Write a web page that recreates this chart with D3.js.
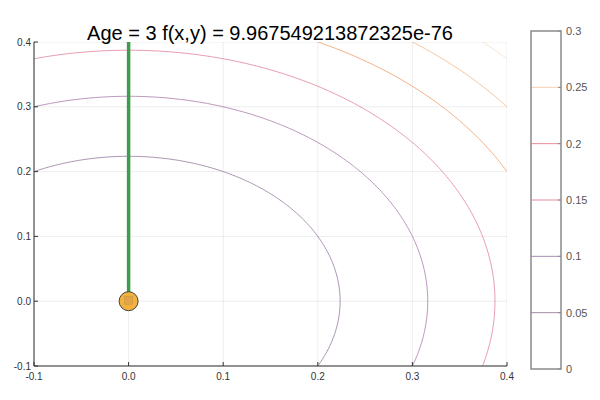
<!DOCTYPE html>
<html>
<head>
<meta charset="utf-8">
<script src="https://cdn.jsdelivr.net/npm/d3@7"></script>
<style>
  body { margin: 0; background: #fff; }
  text { font-family: "Liberation Sans", Arial, sans-serif; }
</style>
</head>
<body>
<div id="chart"></div>
<script>
// contour levels and their colours
let levels = [0.05, 0.1, 0.15, 0.2, 0.25, 0.3]
let levelColors = ['#8f7398', '#a574a8', '#e07a92', '#f0955f', '#f4b27c', '#f7dcbf']
let cbColors = ['#a48aa8', '#a88cb5', '#e88a98', '#e88a98', '#f6cfb2']
let xTicks = [-0.1, 0.0, 0.1, 0.2, 0.3, 0.4]
let yTicks = [-0.1, 0.0, 0.1, 0.2, 0.3, 0.4]
let cbTicks = [0, 0.05, 0.1, 0.15, 0.2, 0.25, 0.3]
let cbLabels = ['0', '0.05', '0.1', '0.15', '0.2', '0.25', '0.3']
// trajectory and current point
let pathX = [0, 0]
let pathY = [0, 0.4]
let pointX = [0]
let pointY = [0]
let title = 'Age = 3 f(x,y) = 9.967549213872325e-76'

let width = 600
let height = 400
let plot = { left: 34, right: 507, top: 42, bottom: 366 }

let svg = d3.select('#chart').append('svg')
  .attr('width', width)
  .attr('height', height)

let x = d3.scaleLinear().domain([-0.1, 0.4]).range([plot.left, plot.right])
let y = d3.scaleLinear().domain([-0.1, 0.4]).range([plot.bottom, plot.top])

// grid lines
svg.append('g').selectAll('line').data(xTicks).enter().append('line')
  .attr('x1', d => x(d)).attr('x2', d => x(d))
  .attr('y1', plot.top).attr('y2', plot.bottom)
  .attr('stroke', '#000').attr('stroke-opacity', 0.07)
svg.append('g').selectAll('line').data(yTicks).enter().append('line')
  .attr('y1', d => y(d)).attr('y2', d => y(d))
  .attr('x1', plot.left).attr('x2', plot.right)
  .attr('stroke', '#000').attr('stroke-opacity', 0.07)

// the field f(x,y) = x^2 + y^2 sampled on a grid, then contoured
let n = 201
let values = new Array(n * n)
for (let j = 0; j < n; j++) {
  for (let i = 0; i < n; i++) {
    let gx = -0.1 + 0.5 * i / (n - 1)
    let gy = -0.1 + 0.5 * j / (n - 1)
    values[j * n + i] = gx * gx + gy * gy
  }
}
let contours = d3.contours().size([n, n]).thresholds(levels).smooth(true)(values)

let proj = d3.geoTransform({
  point: function (px, py) {
    let gx = -0.1 + 0.5 * (px - 0.5) / (n - 1)
    let gy = -0.1 + 0.5 * (py - 0.5) / (n - 1)
    this.stream.point(x(gx), y(gy))
  }
})
let gpath = d3.geoPath().projection(proj)

svg.append('defs').append('clipPath').attr('id', 'clip')
  .append('rect')
  .attr('x', plot.left).attr('y', plot.top)
  .attr('width', plot.right - plot.left).attr('height', plot.bottom - plot.top)

svg.append('g').attr('clip-path', 'url(#clip)')
  .selectAll('path').data(contours).enter().append('path')
  .attr('d', gpath)
  .attr('fill', 'none')
  .attr('stroke', (d, i) => levelColors[i])
  .attr('stroke-opacity', 0.85)
  .attr('stroke-width', 0.9)

// cover the parts of the contour rings that run along the border
svg.append('rect')
  .attr('x', plot.left - 3).attr('y', plot.top - 3)
  .attr('width', plot.right - plot.left + 6).attr('height', plot.bottom - plot.top + 6)
  .attr('fill', 'none').attr('stroke', '#fff').attr('stroke-width', 6)

// axes spines
svg.append('line')
  .attr('x1', plot.left).attr('x2', plot.left)
  .attr('y1', plot.top).attr('y2', plot.bottom)
  .attr('stroke', '#6e6e6e').attr('stroke-width', 1.5)
svg.append('line')
  .attr('x1', plot.left).attr('x2', plot.right)
  .attr('y1', plot.bottom).attr('y2', plot.bottom)
  .attr('stroke', '#6e6e6e').attr('stroke-width', 1.5)

// ticks (inward) + labels
svg.append('g').selectAll('line').data(xTicks).enter().append('line')
  .attr('x1', d => x(d)).attr('x2', d => x(d))
  .attr('y1', plot.bottom).attr('y2', plot.bottom - 4)
  .attr('stroke', '#333')
svg.append('g').selectAll('text').data(xTicks).enter().append('text')
  .attr('x', d => x(d)).attr('y', plot.bottom + 14)
  .attr('text-anchor', 'middle')
  .attr('font-size', 10).attr('fill', '#333')
  .text(d => d3.format('.1f')(d).replace('−', '-'))
svg.append('g').selectAll('line').data(yTicks).enter().append('line')
  .attr('x1', plot.left).attr('x2', plot.left + 4)
  .attr('y1', d => y(d)).attr('y2', d => y(d))
  .attr('stroke', '#333')
svg.append('g').selectAll('text').data(yTicks).enter().append('text')
  .attr('x', plot.left - 3).attr('y', d => y(d) + 3.5)
  .attr('text-anchor', 'end')
  .attr('font-size', 10).attr('fill', '#333')
  .text(d => d3.format('.1f')(d).replace('−', '-'))

// trajectory line
let line = d3.line().x(d => x(d[0])).y(d => y(d[1]))
svg.append('path')
  .datum(pathX.map((v, i) => [v, pathY[i]]))
  .attr('d', line)
  .attr('fill', 'none')
  .attr('stroke', '#3c9d4a')
  .attr('stroke-width', 3.5)

// current point
svg.append('g').selectAll('circle').data(pointX).enter().append('circle')
  .attr('cx', d => x(d)).attr('cy', (d, i) => y(pointY[i]))
  .attr('r', 9.5)
  .attr('fill', '#f1b240')
  .attr('stroke', '#444').attr('stroke-width', 1)
svg.append('g').selectAll('rect').data(pointX).enter().append('rect')
  .attr('x', d => x(d) - 4).attr('y', (d, i) => y(pointY[i]) - 5)
  .attr('width', 8).attr('height', 8)
  .attr('fill', '#e3a449').attr('stroke', '#c89040').attr('stroke-width', 0.5)

// title
svg.append('text')
  .attr('x', 270).attr('y', 40)
  .attr('text-anchor', 'middle')
  .attr('font-size', 20).attr('fill', '#000')
  .text(title)

// colorbar
let cb = { left: 531, right: 561, top: 31, bottom: 369 }
let cy = d3.scaleLinear().domain([0, 0.3]).range([cb.bottom, cb.top])
svg.append('g').selectAll('line').data(levels.slice(0, 5)).enter().append('line')
  .attr('x1', cb.left).attr('x2', cb.right)
  .attr('y1', d => cy(d)).attr('y2', d => cy(d))
  .attr('stroke', (d, i) => cbColors[i])
svg.append('rect')
  .attr('x', cb.left).attr('y', cb.top)
  .attr('width', cb.right - cb.left).attr('height', cb.bottom - cb.top)
  .attr('fill', 'none').attr('stroke', '#8a8a8a').attr('stroke-width', 1.5)
svg.append('g').selectAll('line').data(cbTicks).enter().append('line')
  .attr('x1', cb.right).attr('x2', cb.right - 3)
  .attr('y1', d => cy(d)).attr('y2', d => cy(d))
  .attr('stroke', '#8a8a8a')
svg.append('g').selectAll('text').data(cbTicks).enter().append('text')
  .attr('x', cb.right + 5).attr('y', d => cy(d) + 4)
  .attr('font-size', 11).attr('fill', '#555')
  .text((d, i) => cbLabels[i])
</script>
</body>
</html>
